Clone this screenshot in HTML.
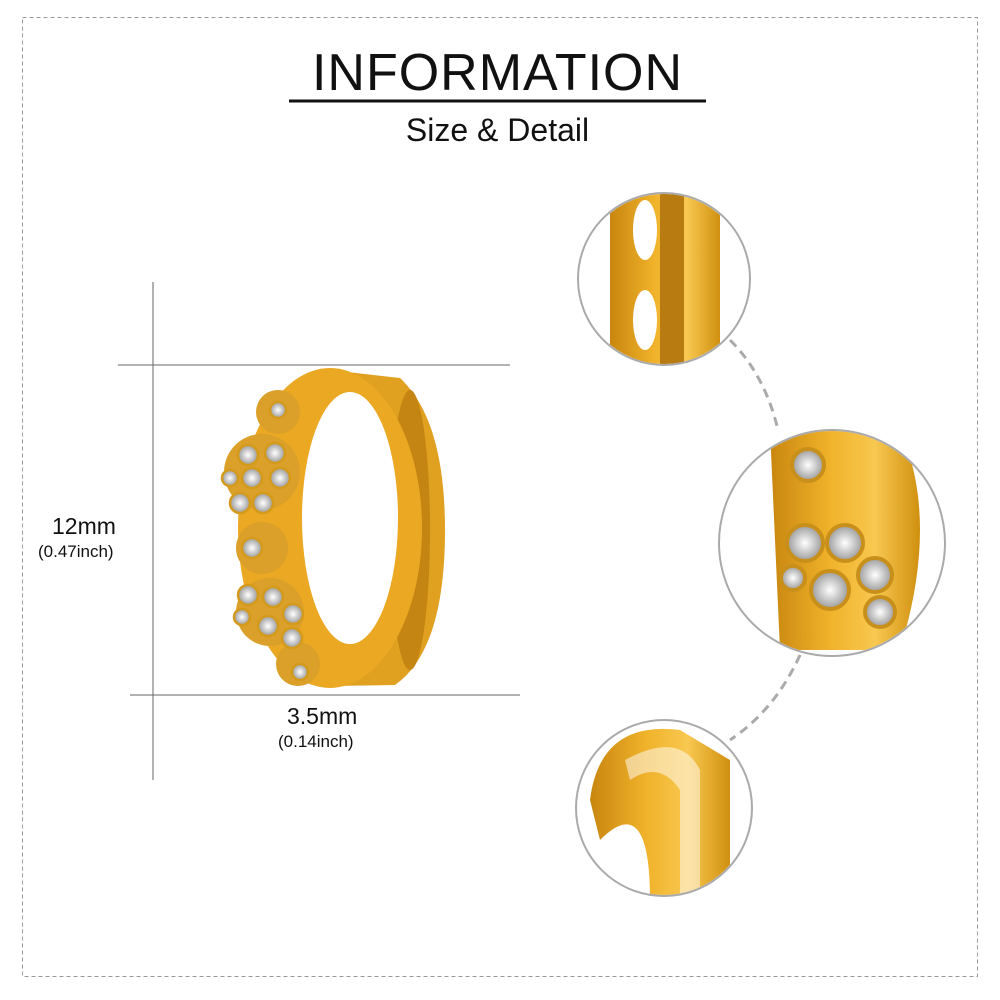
<!DOCTYPE html>
<html><head><style>
html,body{margin:0;padding:0;background:#fff;}
body{width:1000px;height:1000px;position:relative;overflow:hidden;font-family:"Liberation Sans",sans-serif;}
.t{position:absolute;color:#111;white-space:nowrap;}
</style></head><body>
<svg width="1000" height="1000" style="position:absolute;left:0;top:0">
<defs>
<linearGradient id="g" x1="0" x2="1" y1="0" y2="0">
<stop offset="0" stop-color="#c8860f"/><stop offset="0.4" stop-color="#f0b22a"/><stop offset="0.7" stop-color="#f8c850"/><stop offset="1" stop-color="#d0900f"/>
</linearGradient>
<radialGradient id="d"><stop offset="0" stop-color="#fff"/><stop offset="1" stop-color="#9a9a9a"/></radialGradient>
<clipPath id="c1"><circle cx="664" cy="279" r="85"/></clipPath>
<clipPath id="c2"><circle cx="832" cy="543" r="112"/></clipPath>
<clipPath id="c3"><circle cx="664" cy="808" r="87"/></clipPath>
</defs>
<rect x="22.5" y="17.5" width="955" height="959" fill="none" stroke="#999" stroke-dasharray="4,3"/>
<line x1="289" y1="101" x2="706" y2="101" stroke="#111" stroke-width="3"/>
<line x1="153" y1="282" x2="153" y2="780" stroke="#666"/>
<line x1="118" y1="365" x2="510" y2="365" stroke="#666"/>
<line x1="130" y1="695" x2="520" y2="695" stroke="#666"/>
<!-- earring -->
<path d="M330 370 L400 378 Q445 420 445 530 Q445 650 395 685 L330 686 Z" fill="#e0a020"/>
<ellipse cx="410" cy="530" rx="20" ry="140" fill="#c48512"/>
<ellipse cx="330" cy="528" rx="92" ry="160" fill="#eaa823"/>
<ellipse cx="350" cy="518" rx="48" ry="126" fill="#fff"/>
<g fill="#dba02a">
<circle cx="278" cy="412" r="22"/><circle cx="262" cy="472" r="38"/><circle cx="262" cy="548" r="26"/><circle cx="270" cy="612" r="34"/><circle cx="298" cy="664" r="22"/>
</g>
<g fill="url(#d)" stroke="#d49a1c" stroke-width="2.5">
<circle cx="278" cy="410" r="8"/><circle cx="248" cy="455" r="10"/><circle cx="275" cy="453" r="10"/><circle cx="230" cy="478" r="8"/><circle cx="252" cy="478" r="10"/><circle cx="280" cy="478" r="10"/><circle cx="240" cy="503" r="10"/><circle cx="263" cy="503" r="10"/><circle cx="252" cy="548" r="10"/><circle cx="248" cy="595" r="10"/><circle cx="273" cy="597" r="10"/><circle cx="242" cy="617" r="8"/><circle cx="268" cy="626" r="10"/><circle cx="293" cy="614" r="10"/><circle cx="292" cy="638" r="10"/><circle cx="300" cy="672" r="8"/>
</g>
<!-- circles -->
<g clip-path="url(#c1)">
<rect x="610" y="190" width="110" height="180" fill="url(#g)"/>
<rect x="660" y="190" width="24" height="180" fill="#b87b12"/>
<ellipse cx="645" cy="230" rx="12" ry="30" fill="#fff"/><ellipse cx="645" cy="320" rx="12" ry="30" fill="#fff"/>
</g>
<circle cx="664" cy="279" r="86" fill="none" stroke="#aaa" stroke-width="2"/>
<g clip-path="url(#c2)">
<path d="M770 430 L900 430 Q940 520 900 650 L780 650 Z" fill="url(#g)"/>
<g fill="url(#d)" stroke="#c8901a" stroke-width="4">
<circle cx="808" cy="465" r="16"/><circle cx="805" cy="543" r="18"/><circle cx="845" cy="543" r="18"/><circle cx="830" cy="590" r="19"/><circle cx="875" cy="575" r="17"/><circle cx="880" cy="612" r="15"/><circle cx="793" cy="578" r="12"/>
</g></g>
<circle cx="832" cy="543" r="113" fill="none" stroke="#aaa" stroke-width="2"/>
<g clip-path="url(#c3)">
<path d="M590 800 Q600 720 680 730 L730 760 L730 900 L650 900 Q650 790 600 840 Z" fill="url(#g)"/>
<path d="M625 760 Q680 730 700 770 L700 900 L680 900 L680 790 Q660 760 630 780 Z" fill="#fff" opacity="0.5"/>
</g>
<circle cx="664" cy="808" r="88" fill="none" stroke="#aaa" stroke-width="2"/>
<path d="M730 340 Q765 375 778 430" fill="none" stroke="#aaa" stroke-width="3" stroke-dasharray="9,6"/>
<path d="M800 655 Q775 710 730 740" fill="none" stroke="#aaa" stroke-width="3" stroke-dasharray="9,6"/>
</svg>
<div class="t" style="left:0;width:995px;text-align:center;top:43px;font-size:52px;letter-spacing:1px">INFORMATION</div>
<div class="t" style="left:0;width:995px;text-align:center;top:112px;font-size:32px">Size &amp; Detail</div>
<div class="t" style="left:52px;top:513px;font-size:23px">12mm</div>
<div class="t" style="left:38px;top:542px;font-size:17px">(0.47inch)</div>
<div class="t" style="left:287px;top:703px;font-size:23px">3.5mm</div>
<div class="t" style="left:278px;top:732px;font-size:17px">(0.14inch)</div>
</body></html>
